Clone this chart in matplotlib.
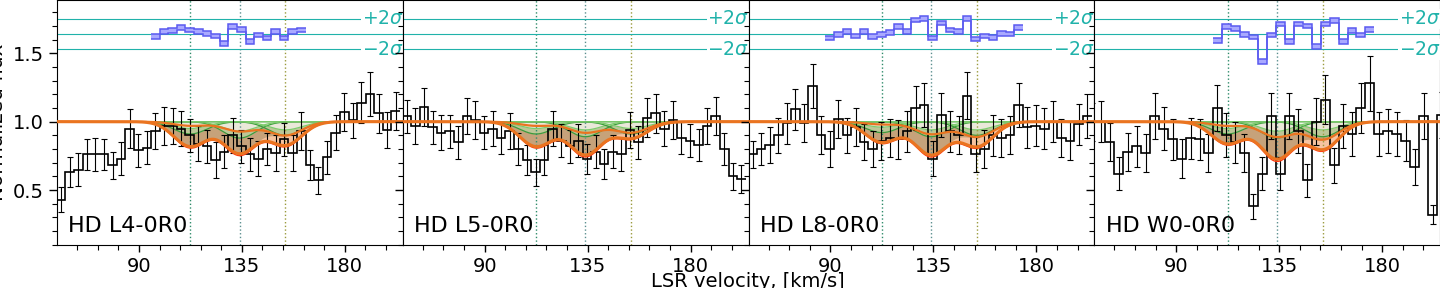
import matplotlib.pyplot as plt
import numpy as np
from matplotlib.ticker import MultipleLocator

# panels
panel_labels = ["HD L4-0R0", "HD L5-0R0", "HD L8-0R0", "HD W0-0R0"]
bin_start = [54.1, 54.1, 54.1, 51.2]   # left edge of first pixel, km/s
bin_width = [3.75, 3.75, 3.75, 3.92]

# normalized flux per pixel
flux_l4 = [0.43, 0.63, 0.65, 0.76, 0.76, 0.76, 0.68, 0.73, 0.95, 0.79,
           0.81, 0.93, 0.97, 0.97, 0.95, 0.90, 0.84, 0.82, 0.72, 0.78,
           0.90, 0.82, 0.76, 0.73, 0.80, 0.77, 0.87, 0.77, 0.93, 0.68,
           0.57, 0.74, 0.92, 1.07, 1.01, 1.14, 1.20, 1.06, 0.94, 1.08]
flux_l5 = [1.04, 0.97, 1.11, 0.96, 0.92, 0.93, 0.85, 1.04, 1.01, 0.92,
           0.95, 0.88, 0.93, 0.80, 0.72, 0.63, 0.72, 0.95, 0.86, 0.82,
           0.86, 0.73, 0.78, 0.69, 0.78, 0.76, 0.94, 0.85, 1.03, 1.06,
           0.95, 1.01, 0.88, 0.86, 0.83, 0.97, 1.04, 0.80, 0.60, 0.58]
flux_l8 = [0.76, 0.80, 0.83, 0.90, 0.99, 1.09, 0.99, 1.26, 0.90, 0.80,
           1.02, 0.90, 0.96, 0.85, 0.80, 0.86, 0.88, 0.87, 0.93, 1.10,
           1.12, 0.73, 1.05, 0.93, 0.90, 1.19, 0.76, 0.80, 0.90, 0.88,
           0.90, 1.12, 0.96, 0.97, 0.95, 1.00, 0.88, 0.86, 0.98, 1.04]
flux_w0 = [1.00, 1.00, 0.85, 0.62, 0.78, 0.82, 0.77, 1.04, 0.95, 0.87,
           0.73, 0.88, 0.87, 0.77, 1.10, 0.90, 0.85, 0.77, 0.38, 0.62,
           1.04, 0.62, 1.04, 0.93, 0.57, 1.00, 1.16, 0.68, 0.97, 0.91,
           1.10, 1.28, 0.91, 0.93, 0.91, 0.86, 0.67, 1.04, 0.32, 1.05]

err_l4 = [0.09, 0.11, 0.12, 0.11, 0.12, 0.11, 0.10, 0.12, 0.14, 0.12,
          0.12, 0.13, 0.14, 0.13, 0.13, 0.12, 0.13, 0.12, 0.13, 0.12,
          0.13, 0.12, 0.12, 0.13, 0.12, 0.13, 0.12, 0.13, 0.14, 0.11,
          0.10, 0.12, 0.13, 0.14, 0.13, 0.15, 0.16, 0.14, 0.13, 0.14]
err_l5 = [0.12, 0.13, 0.14, 0.12, 0.13, 0.12, 0.12, 0.13, 0.14, 0.12,
          0.13, 0.12, 0.13, 0.12, 0.11, 0.10, 0.11, 0.13, 0.12, 0.12,
          0.12, 0.11, 0.12, 0.11, 0.12, 0.12, 0.13, 0.12, 0.14, 0.14,
          0.13, 0.14, 0.12, 0.12, 0.12, 0.13, 0.14, 0.12, 0.10, 0.10]
err_l8 = [0.10, 0.12, 0.13, 0.13, 0.15, 0.15, 0.14, 0.16, 0.14, 0.13,
          0.14, 0.13, 0.14, 0.13, 0.13, 0.14, 0.14, 0.14, 0.15, 0.16,
          0.16, 0.13, 0.16, 0.15, 0.14, 0.17, 0.13, 0.14, 0.15, 0.14,
          0.14, 0.16, 0.15, 0.15, 0.15, 0.15, 0.14, 0.14, 0.15, 0.16]
err_w0 = [0.14, 0.15, 0.14, 0.12, 0.14, 0.15, 0.14, 0.17, 0.16, 0.15,
          0.14, 0.15, 0.15, 0.14, 0.17, 0.16, 0.15, 0.14, 0.09, 0.12,
          0.17, 0.12, 0.17, 0.16, 0.12, 0.17, 0.18, 0.13, 0.16, 0.16,
          0.18, 0.20, 0.16, 0.16, 0.16, 0.15, 0.13, 0.17, 0.07, 0.17]

# fit components (LSR velocity, gaussian sigma)
comp_vel = [112.5, 134.0, 154.0]
comp_sig = [7.2, 7.2, 7.2]
# depth of total model, lower and upper envelope
depth_lo = [[0.18, 0.23, 0.17], [0.18, 0.24, 0.12], [0.15, 0.24, 0.18], [0.16, 0.27, 0.20]]
depth_hi = [[0.03, 0.07, 0.10], [0.03, 0.08, 0.08], [0.02, 0.09, 0.11], [0.03, 0.11, 0.13]]
# individual component bands (lower, upper)
green_lo = [[0.09, 0.12, 0.10], [0.09, 0.11, 0.09], [0.08, 0.11, 0.10], [0.09, 0.12, 0.11]]
green_hi = [[0.05, 0.07, 0.06], [0.05, 0.06, 0.05], [0.04, 0.06, 0.06], [0.05, 0.07, 0.06]]

# residuals in sigma units, first pixel index
resid_first = [11, None, 9, 14]
resid_l4 = [-0.3, 0.34, 0.47, 0.9, 0.56, 0.34, 0.13, -0.22, -1.18, 1.0,
            0.65, -0.97, -0.1, -0.52, 0.34, -0.52, 0.34, 0.56]
resid_l8 = [-0.52, 0.0, 0.34, -0.22, 0.34, -0.31, 0.0, 0.26, 0.99, 0.34,
            1.87, 2.09, -0.52, 1.44, 0.56, 0.34, 2.09, -0.65, -0.22, -0.44,
            0.13, 0.04, 0.9]
resid_w0 = [-0.84, 0.99, 0.78, 0.0, -0.39, -3.58, -0.09, 1.35, -0.97, 1.35,
            1.08, -1.62, 1.35, 1.78, -0.97, 0.47, -0.09, 0.65]

flux_all = [flux_l4, flux_l5, flux_l8, flux_w0]
err_all = [err_l4, err_l5, err_l8, err_w0]
resid_all = [resid_l4, None, resid_l8, resid_w0]

res_zero = 1.64
res_sig = 0.056

comp_colors = ["#2e8b6a", "#5b8f8f", "#9a9a3c"]
orange = "#ea7420"
teal = "#20b2aa"


def absorb(v, depths):
    prof = np.ones_like(v)
    for c, s, d in zip(comp_vel, comp_sig, depths):
        prof = prof * (1 - d * np.exp(-0.5 * ((v - c) / s) ** 2))
    return prof


plt.rcParams["font.family"] = "DejaVu Sans"
fig = plt.figure(figsize=(14.4, 2.88), dpi=100)
pw = 345.75 / 1440
axes = []
for k in range(4):
    ax = fig.add_axes([(57 + 345.75 * k) / 1440, 43 / 288, pw, 245 / 288])
    axes.append(ax)

vv = np.linspace(45, 215, 1200)
for k, ax in enumerate(axes):
    f = np.array(flux_all[k])
    e = np.array(err_all[k])
    edges = bin_start[k] + bin_width[k] * np.arange(len(f) + 1)
    cen = 0.5 * (edges[1:] + edges[:-1])

    lo = absorb(vv, depth_lo[k])
    hi = absorb(vv, depth_hi[k])
    mid = absorb(vv, [depth_lo[k][0], depth_lo[k][1], depth_hi[k][2]])
    ax.fill_between(vv, 1, lo, color="#f6c3a0", lw=0, zorder=1)
    ax.fill_between(vv, 1, mid, color="#c6a27a", lw=0, zorder=1.1)
    for j in range(3):
        d1 = [0, 0, 0]
        d2 = [0, 0, 0]
        d1[j] = green_lo[k][j]
        d2[j] = green_hi[k][j]
        g1 = absorb(vv, d1)
        g2 = absorb(vv, d2)
        ax.fill_between(vv, 1, g2, color="#f4faf2", alpha=0.8, lw=0, zorder=1.2)
        ax.fill_between(vv, g2, g1, color="#b5e6b0", alpha=0.55, lw=0, zorder=1.3)
        ax.plot(vv, g1, color="#3c9a3c", lw=0.9, zorder=1.4)
        ax.plot(vv, g2, color="#7ccc6c", lw=0.9, zorder=1.4)

    ax.errorbar(cen, f, yerr=e, fmt="none", ecolor="black", elinewidth=0.8,
                capsize=2.2, capthick=0.8, zorder=2)
    ax.stairs(f, edges, color="black", lw=1.2, baseline=None, zorder=2.1)

    ax.plot(vv, absorb(vv, [d * 1.06 for d in depth_lo[k]]), color="#ff3a10", lw=1.0, zorder=2.5)
    ax.plot(vv, hi, color=orange, lw=1.6, zorder=2.6)
    ax.plot(vv, lo, color=orange, lw=2.2, zorder=2.7)

    for c, col in zip(comp_vel, comp_colors):
        ax.axvline(c, color=col, ls=":", lw=1.0, zorder=1.5)

    for y in (res_zero - 2 * res_sig, res_zero, res_zero + 2 * res_sig):
        ax.axhline(y, color=teal, lw=0.8, zorder=1.5)
    ax.text(187.3, res_zero + 2 * res_sig, r"$+2\sigma$", color=teal, fontsize=13.5,
            va="center", ha="left", zorder=3,
            bbox=dict(facecolor="white", edgecolor="none", pad=0.5))
    ax.text(187.3, res_zero - 2 * res_sig, r"$-2\sigma$", color=teal, fontsize=13.5,
            va="center", ha="left", zorder=3,
            bbox=dict(facecolor="white", edgecolor="none", pad=0.5))

    if resid_all[k] is not None:
        r = np.array(resid_all[k])
        i0 = resid_first[k]
        redges = edges[i0:i0 + len(r) + 1]
        ry = res_zero + r * res_sig
        ax.stairs(ry + 0.017, redges, baseline=ry - 0.017, fill=True,
                  color="#a9a9ff", zorder=3)
        ax.stairs(ry + 0.017, redges, baseline=None, color="#5a5af0", lw=1.1, zorder=3.1)
        ax.stairs(ry - 0.017, redges, baseline=None, color="#5a5af0", lw=1.1, zorder=3.1)

    ax.text(0.033, 0.035, panel_labels[k], transform=ax.transAxes, fontsize=16,
            ha="left", va="bottom", zorder=4)

    ax.set_xlim(54.2, 205.3)
    ax.set_ylim(0.098, 1.89)
    ax.xaxis.set_major_locator(MultipleLocator(45))
    ax.xaxis.set_minor_locator(MultipleLocator(9))
    ax.yaxis.set_major_locator(MultipleLocator(0.5))
    ax.yaxis.set_minor_locator(MultipleLocator(0.1))
    ax.tick_params(which="major", length=6, width=1, labelsize=14)
    ax.tick_params(which="minor", length=3.5, width=0.8)
    ax.tick_params(axis="x", which="major", length=5)
    if k > 0:
        ax.tick_params(axis="y", labelleft=False)

axes[0].set_ylabel("Normalized flux", fontsize=14.4, labelpad=4)
fig.text(748 / 1440, 1 / 288, "LSR velocity, [km/s]", fontsize=14,
         ha="center", va="baseline")

fig.savefig("out.png", dpi=100)
